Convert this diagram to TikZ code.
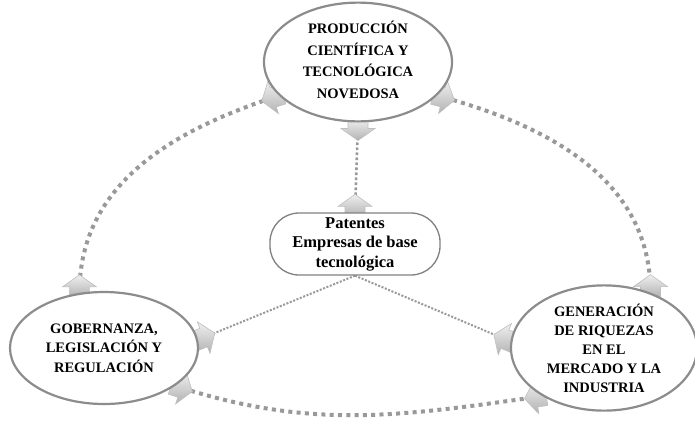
\documentclass[tikz,border=0pt]{standalone}
\usepackage{fontspec}
\setmainfont{Liberation Serif}
\usetikzlibrary{shapes.geometric,backgrounds,calc}
\newcommand{\lowered}[2]{\raisebox{#1}{\begin{tabular}{@{}c@{}}#2\end{tabular}}}
\begin{document}
\begin{tikzpicture}[x=1pt,y=1pt,
  bubble/.style={ellipse, draw=black!45, line width=2.2pt, fill=white,
    minimum width=188pt, minimum height=112pt, inner sep=0pt, align=center,
    text=black, font=\fontsize{14.5}{19.5}\selectfont\bfseries},
  pill/.style={rectangle, rounded corners=29pt, draw=black!50, line width=1.3pt,
    fill=white, minimum width=170pt, minimum height=62pt, align=center,
    text=black, font=\fontsize{16.5}{19.5}\selectfont\bfseries},
  bigdots/.style={draw=black!40, line width=4pt, dash pattern=on 4pt off 4.3pt},
  smalldots/.style={draw=black!40, line width=2pt, dash pattern=on 2pt off 1.6pt},
  middots/.style={draw=black!40, line width=2.6pt, dash pattern=on 2.6pt off 2.4pt},
  bhead/.pic={\shade[top color=black!6, bottom color=black!30, draw=black!25,
      line width=0.6pt]
      (-4,-10) -- (6,-10) -- (6,-17) -- (18,0) -- (6,17) -- (6,10) -- (-4,10) -- cycle;}
]
\useasboundingbox (0,0) rectangle (695,-426);

\node[bubble] (top) at (358,-62)
  {\lowered{-5pt}{PRODUCCIÓN\\[2pt]CIENTÍFICA Y\\[2pt]TECNOLÓGICA\\[2pt]NOVEDOSA}};
\node[bubble] (gov) at (104,-348) {GOBERNANZA,\\LEGISLACIÓN Y\\REGULACIÓN};
\node[bubble, minimum width=186pt, font=\fontsize{14.5}{19}\selectfont\bfseries] (mkt) at (604,-348)
  {GENERACIÓN\\DE RIQUEZAS\\EN EL\\MERCADO Y LA\\INDUSTRIA};
\node[pill] (box) at (355,-244) {Patentes\\Empresas de base\\tecnológica};

\begin{pgfonlayer}{background}
\draw[bigdots] (top.203) to[out=198,in=90] (gov.114);
\draw[bigdots] (top.337) to[out=-15,in=90] (mkt.50);
\draw[bigdots] (gov.332) to[out=-18,in=188] (mkt.218);
\draw[middots] (top.south) -- (box.north);
\draw[smalldots] (box.south) -- (gov.5);
\draw[smalldots] (box.south) -- (mkt.176);
\pic[rotate=198] at (top.203) {bhead};
\pic[rotate=-15] at (top.337) {bhead};
\pic[rotate=90] at (mkt.50) {bhead};
\pic[rotate=90] at (gov.114) {bhead};
\pic[rotate=-18] at (gov.332) {bhead};
\pic[rotate=188] at (mkt.218) {bhead};
\pic[rotate=-90] at (top.south) {bhead};
\pic[rotate=90] at (box.north) {bhead};
\pic[rotate=22] at (gov.5) {bhead};
\pic[rotate=157] at (mkt.176) {bhead};
\end{pgfonlayer}
\end{tikzpicture}
\end{document}
